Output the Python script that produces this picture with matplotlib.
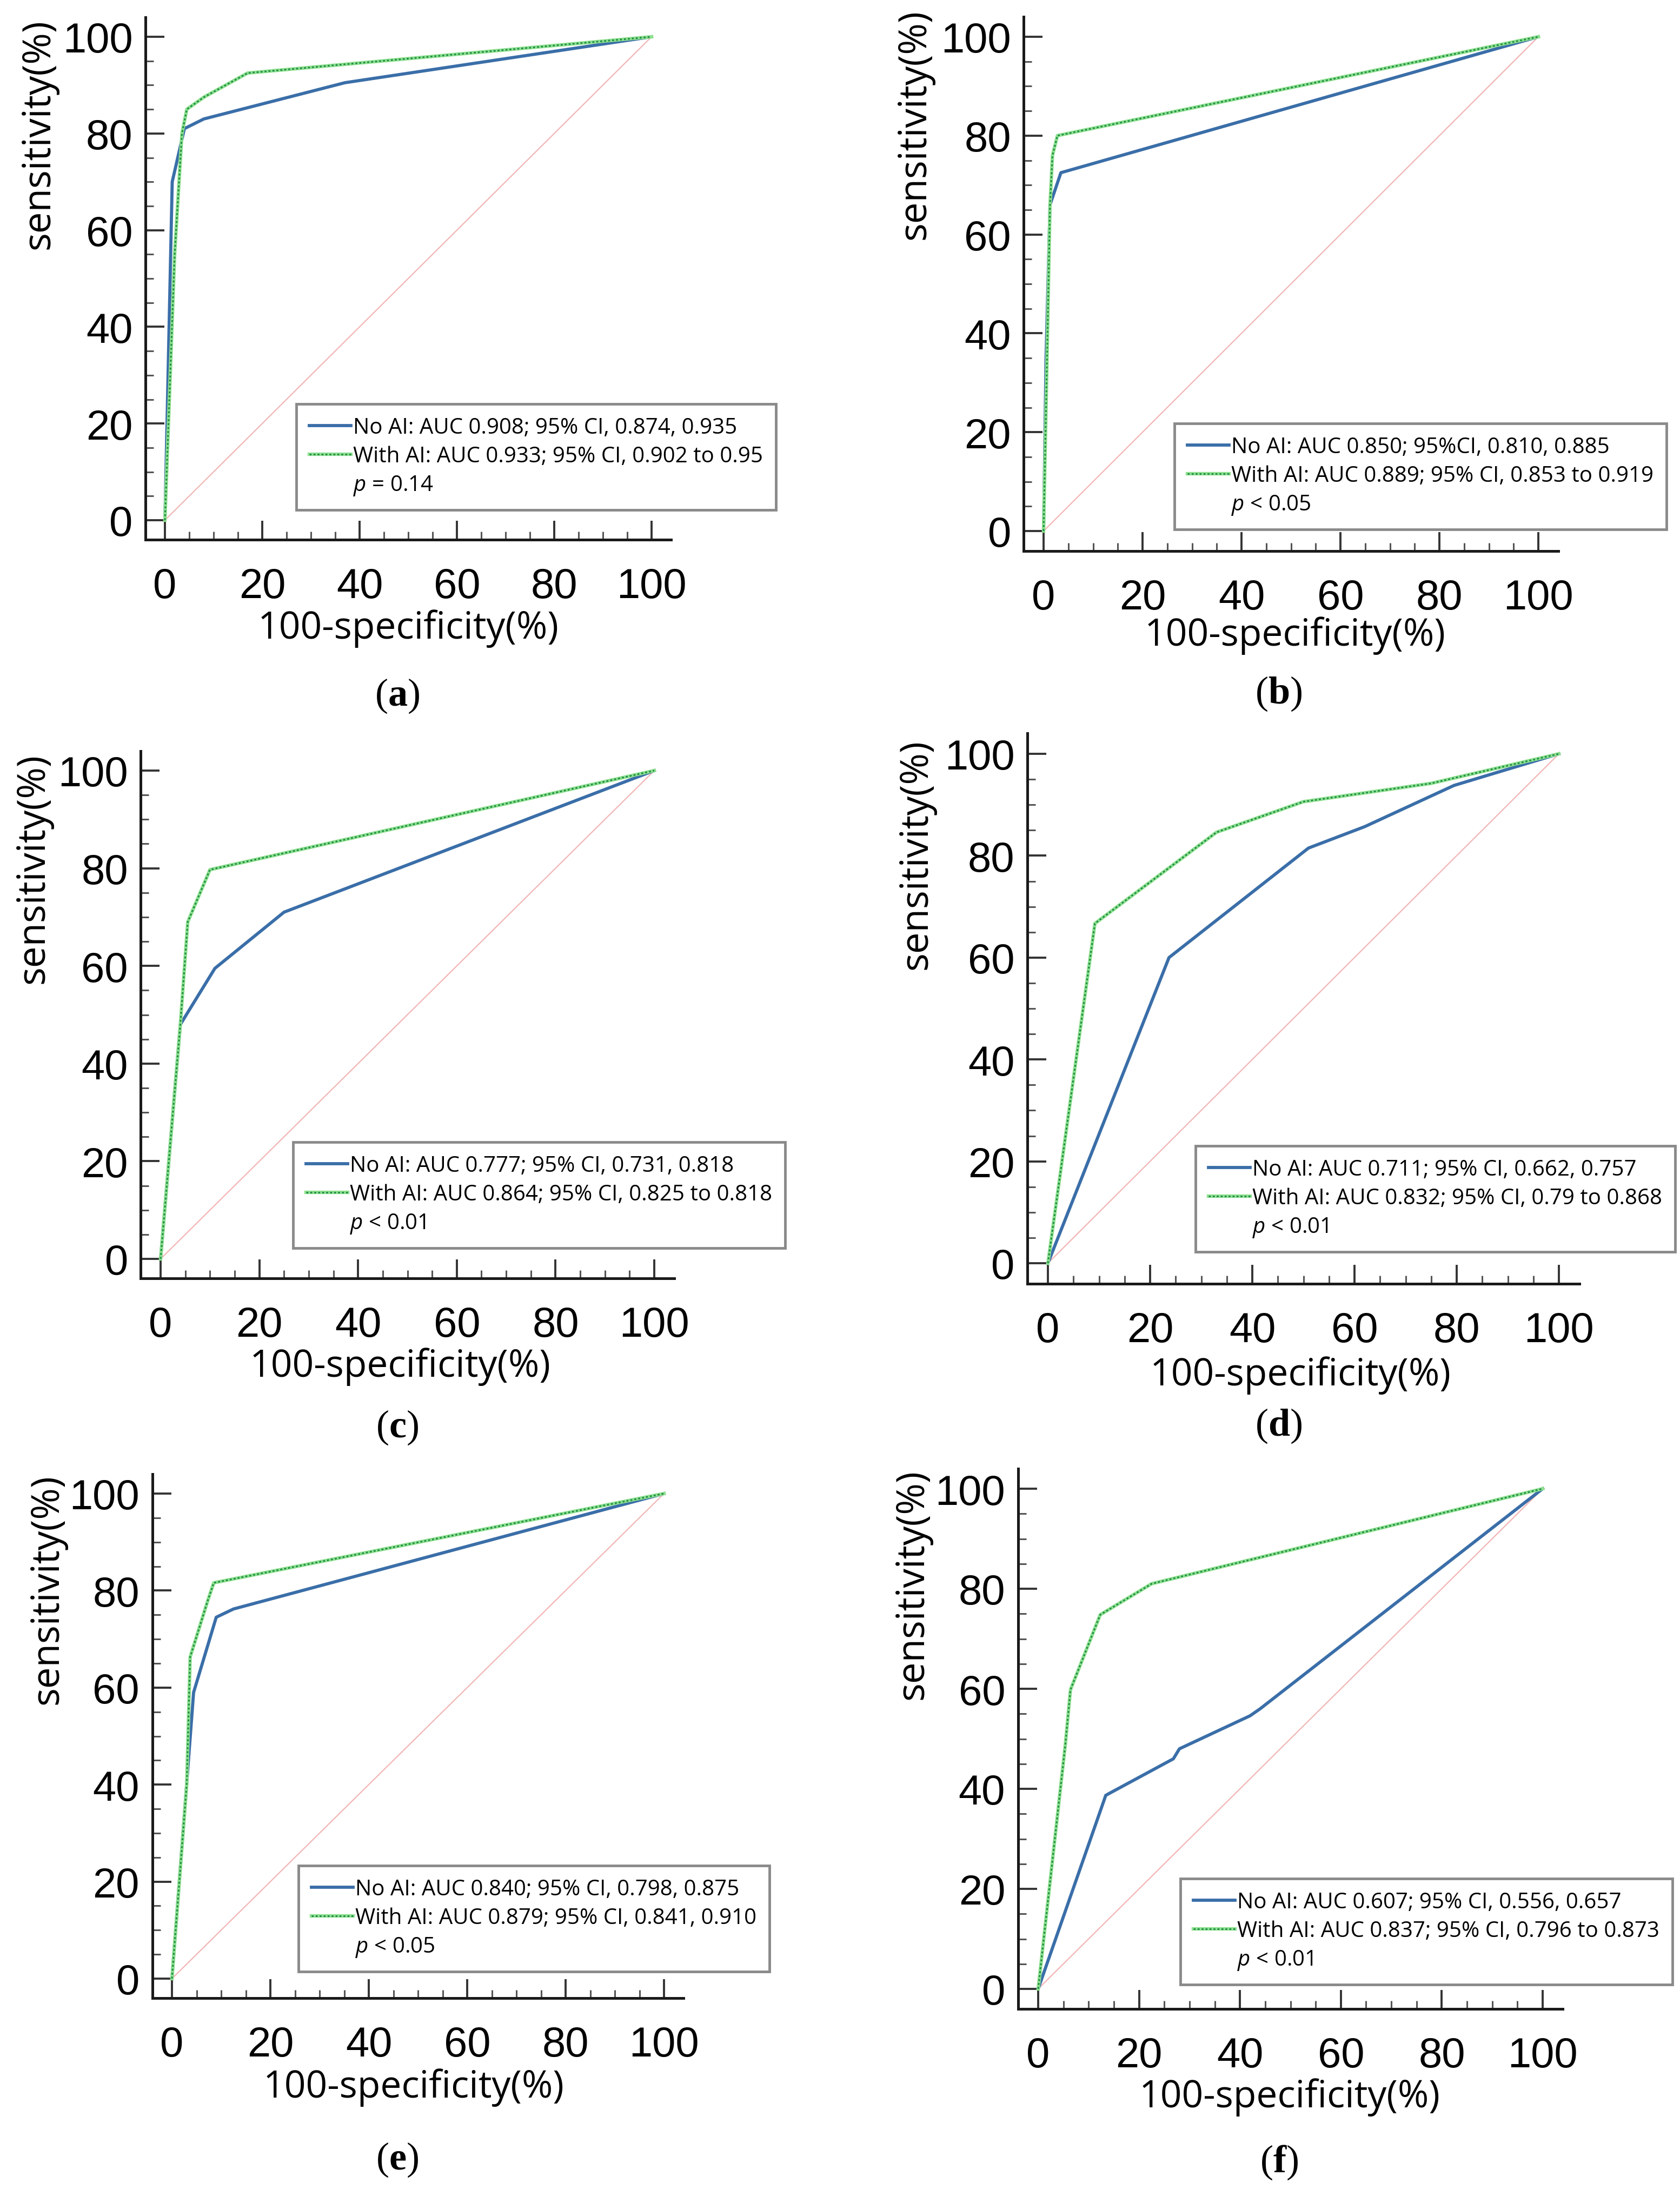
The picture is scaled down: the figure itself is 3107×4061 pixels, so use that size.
import numpy as np
import matplotlib
matplotlib.use("Agg")
import matplotlib.pyplot as plt
from matplotlib.lines import Line2D

plt.rcParams["mathtext.fontset"] = "custom"
plt.rcParams["mathtext.it"] = "Open Sans:italic"
plt.rcParams["mathtext.rm"] = "Liberation Serif"
plt.rcParams["mathtext.bf"] = "Liberation Serif:bold"

# ROC points: 100-specificity (%) and sensitivity (%)
a_noai_x = [0, 1.5, 4, 8, 37, 100]
a_noai_y = [0, 70, 81, 83, 90.5, 100]
a_ai_x = [0, 2, 3.5, 4.5, 8, 17, 100]
a_ai_y = [0, 55, 80, 85, 87.5, 92.5, 100]

b_noai_x = [0, 0.5, 1.3, 3.5, 100]
b_noai_y = [0, 35, 66, 72.5, 100]
b_ai_x = [0, 0.8, 1.3, 1.8, 2.8, 100]
b_ai_y = [0, 40, 66, 76, 80, 100]

c_noai_x = [0, 4, 11, 25, 100]
c_noai_y = [0, 48, 59.5, 71, 100]
c_ai_x = [0, 4, 5.5, 10, 100]
c_ai_y = [0, 48, 69, 79.7, 100]

d_noai_x = [0, 23.7, 51, 62, 79.5, 100]
d_noai_y = [0, 60, 81.5, 85.7, 93.8, 100]
d_ai_x = [0, 9.2, 33, 50, 75, 100]
d_ai_y = [0, 66.7, 84.6, 90.6, 94.2, 100]

e_noai_x = [0, 4.4, 9, 12.5, 100]
e_noai_y = [0, 59, 74.5, 76.2, 100]
e_ai_x = [0, 3, 3.7, 7.3, 8.5, 100]
e_ai_y = [0, 40, 66.3, 78, 81.6, 100]

f_noai_x = [0, 13.4, 26.8, 28, 42, 44, 100]
f_noai_y = [0, 38.7, 46, 48, 54.6, 56, 100]
f_ai_x = [0, 5.4, 6.4, 12.3, 22.5, 100]
f_ai_y = [0, 49, 59.8, 74.8, 81, 100]

noai_labels = [
    "No AI: AUC 0.908; 95% CI, 0.874, 0.935",
    "No AI: AUC 0.850; 95%CI, 0.810, 0.885",
    "No AI: AUC 0.777; 95% CI, 0.731, 0.818",
    "No AI: AUC 0.711; 95% CI, 0.662, 0.757",
    "No AI: AUC 0.840; 95% CI, 0.798, 0.875",
    "No AI: AUC 0.607; 95% CI, 0.556, 0.657",
]
ai_labels = [
    "With AI: AUC 0.933; 95% CI, 0.902 to 0.95",
    "With AI: AUC 0.889; 95% CI, 0.853 to 0.919",
    "With AI: AUC 0.864; 95% CI, 0.825 to 0.818",
    "With AI: AUC 0.832; 95% CI, 0.79 to 0.868",
    "With AI: AUC 0.879; 95% CI, 0.841, 0.910",
    "With AI: AUC 0.837; 95% CI, 0.796 to 0.873",
]
p_labels = ["$p$ = 0.14", "$p$ < 0.05", "$p$ < 0.01", "$p$ < 0.01", "$p$ < 0.05", "$p$ < 0.01"]
letters = ["a", "b", "c", "d", "e", "f"]

curves = [
    (a_noai_x, a_noai_y, a_ai_x, a_ai_y),
    (b_noai_x, b_noai_y, b_ai_x, b_ai_y),
    (c_noai_x, c_noai_y, c_ai_x, c_ai_y),
    (d_noai_x, d_noai_y, d_ai_x, d_ai_y),
    (e_noai_x, e_noai_y, e_ai_x, e_ai_y),
    (f_noai_x, f_noai_y, f_ai_x, f_ai_y),
]

W, H = 3107, 4062
fig = plt.figure(figsize=(W / 100, H / 100), dpi=100)

# pixel layout of each panel: x of data 0, px per unit x, y of data 0, px per unit y
layout = [
    (305, 9.00, 963, 8.94),
    (1930, 9.15, 983, 9.14),
    (297, 9.13, 2329, 9.03),
    (1938, 9.45, 2337, 9.42),
    (318, 9.10, 3660, 8.97),
    (1920, 9.33, 3679, 9.25),
]
# legend box right/bottom, ylabel centre x/top, xlabel centre, caption centre
legend_pos = [(1435, 944), (3082, 980), (1452, 2309), (3098, 2316), (1423, 3647), (3093, 3671)]
ylabel_pos = [(72, 35), (1692, 17), (62, 1393), (1695, 1367), (88, 2726), (1688, 2717)]
xlabel_pos = [(755, 1163), (2395, 1176), (740, 2528), (2405, 2544), (765, 3861), (2385, 3879)]
caption_pos = [(735, 1287), (2365, 1283), (735, 2640), (2365, 2637), (735, 3994), (2365, 3999)]

blue = "#3a6ea8"
light_green = "#8fe08f"
dark_green = "#1f8f48"
pink = "#f2b6b6"
green_dots = (0, (1.2, 1.2))

for i in range(6):
    x0, px, y0, py = layout[i]
    ax = fig.add_axes([(x0 - 4 * px) / W, 1 - (y0 + 4 * py) / H, 108 * px / W, 108 * py / H])
    ax.set_xlim(-4, 104)
    ax.set_ylim(-4, 104)
    nx, ny, wx, wy = curves[i]

    ax.plot([0, 100], [0, 100], color=pink, lw=1.6, zorder=1)
    ax.plot(nx, ny, color=blue, lw=4.2, zorder=2, solid_joinstyle="round")
    ax.plot(wx, wy, color=light_green, lw=4.6, zorder=3)
    ax.plot(wx, wy, color=dark_green, lw=2.2, ls=green_dots, zorder=4)

    for side in ["top", "right"]:
        ax.spines[side].set_visible(False)
    for side in ["left", "bottom"]:
        ax.spines[side].set_linewidth(3.6)
        ax.spines[side].set_color("#1a1a1a")

    ax.set_xticks(np.arange(0, 101, 20))
    ax.set_yticks(np.arange(0, 101, 20))
    ax.set_xticks(np.arange(0, 101, 5), minor=True)
    ax.set_yticks(np.arange(0, 101, 5), minor=True)
    ax.tick_params(which="major", direction="in", length=25, width=2.8, color="#333333",
                   labelsize=56)
    ax.tick_params(which="minor", direction="in", length=11, width=2.2, color="#555555")
    ax.tick_params(axis="x", pad=36)
    ax.tick_params(axis="y", pad=17)
    for lab in ax.get_xticklabels() + ax.get_yticklabels():
        lab.set_fontfamily("Liberation Sans")

    h_no = Line2D([], [], color=blue, lw=4.2)
    h_ai = (Line2D([], [], color=light_green, lw=4.6),
            Line2D([], [], color=dark_green, lw=2.2, ls=green_dots))
    h_p = Line2D([], [], color="none")
    rx, by = legend_pos[i]
    leg = ax.legend([h_no, h_ai, h_p], [noai_labels[i], ai_labels[i], p_labels[i]],
                    loc="lower right", bbox_to_anchor=(rx / W, 1 - by / H),
                    bbox_transform=fig.transFigure, borderaxespad=0,
                    prop={"family": "Open Sans", "size": 29}, frameon=True, fancybox=False,
                    edgecolor="#8a8a8a", framealpha=1, handlelength=1.9, handletextpad=0.1,
                    labelspacing=0.3, borderpad=0.6)
    leg.get_frame().set_linewidth(3.5)

    yx, yt = ylabel_pos[i]
    fig.text(yx / W, 1 - yt / H, "sensitivity(%)", rotation=90, ha="center", va="top",
             family="Open Sans", fontsize=51)
    xx, xy = xlabel_pos[i]
    fig.text(xx / W, 1 - xy / H, "100-specificity(%)", ha="center", va="center",
             family="Open Sans", fontsize=50)
    cx, cy = caption_pos[i]
    fig.text(cx / W, 1 - cy / H, "($\\mathbf{" + letters[i] + "}$)", ha="center", va="center",
             family="Liberation Serif", fontsize=52)

fig.savefig("out.png", dpi=100, facecolor="white")
